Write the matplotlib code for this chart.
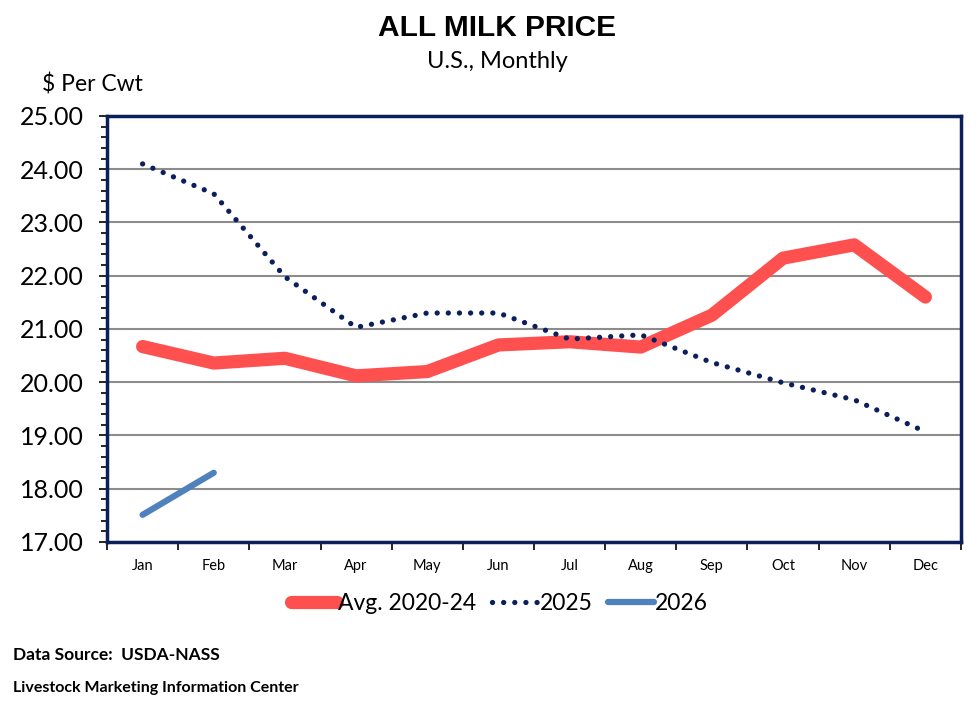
import numpy as np
import matplotlib
matplotlib.use("Agg")
import matplotlib.pyplot as plt
from matplotlib.ticker import MultipleLocator, FixedLocator, FormatStrFormatter, NullFormatter

plt.rcParams['font.family'] = ['Lato', 'DejaVu Sans']

months = ["Jan", "Feb", "Mar", "Apr", "May", "Jun",
          "Jul", "Aug", "Sep", "Oct", "Nov", "Dec"]
avg_2020_24 = [20.67, 20.36, 20.45, 20.12, 20.20, 20.70,
               20.76, 20.66, 21.26, 22.33, 22.58, 21.60]
y2025 = [24.10, 23.54, 21.98, 21.03, 21.30, 21.30,
         20.81, 20.89, 20.37, 19.99, 19.67, 19.07]
y2026 = [17.51, 18.30]

fig = plt.figure(figsize=(9.79, 7.12), dpi=100)
ax = fig.add_axes([0.1093, 0.2388, 0.8723, 0.5983])

x = np.arange(len(months))
ax.plot(x, avg_2020_24, color="#ff5050", lw=9.5, solid_capstyle="round",
        solid_joinstyle="round", label="Avg. 2020-24", zorder=3)
ax.plot(x, y2025, color="#0a1f5c", lw=3.8, linestyle=(0, (0.01, 2.1)),
        dash_capstyle="round", label="2025", zorder=4)
ax.plot(x[:len(y2026)], y2026, color="#4f81bd", lw=4.5,
        solid_capstyle="round", label="2026", zorder=4)

ax.set_xlim(-0.5, 11.5)
ax.set_ylim(17, 25)
ax.yaxis.set_major_locator(MultipleLocator(1))
ax.yaxis.set_minor_locator(MultipleLocator(0.2))
ax.yaxis.set_major_formatter(FormatStrFormatter("%.2f"))
ax.tick_params(axis="y", which="major", length=6, width=1.2, labelsize=18, pad=11)
ax.tick_params(axis="y", which="minor", length=4, width=1.2)

# ticks between categories, labels centred on them
ax.xaxis.set_major_locator(FixedLocator(np.arange(-0.5, 12, 1)))
ax.xaxis.set_major_formatter(NullFormatter())
ax.xaxis.set_minor_locator(FixedLocator(x))
ax.set_xticklabels(months, minor=True)
ax.tick_params(axis="x", which="major", length=6, width=1.2)
ax.tick_params(axis="x", which="minor", length=0, labelsize=10.5, pad=12)

ax.grid(axis="y", which="major", color="#8c8c8c", lw=1.5, zorder=0)
for s in ax.spines.values():
    s.set_color("#0a1f5c")
    s.set_linewidth(2.5)

fig.text(0.508, 0.96, "ALL MILK PRICE", ha="center", va="center",
         fontsize=21.5, fontweight="bold", family="Liberation Sans")
fig.text(0.508, 0.913, "U.S., Monthly", ha="center", va="center", fontsize=17)
fig.text(0.043, 0.881, "$ Per Cwt", ha="left", va="center", fontsize=16.5)

ax.legend(loc="center", bbox_to_anchor=(0.46, -0.145), ncol=3, frameon=False,
          fontsize=16.5, handlelength=2.0, handletextpad=0.05, columnspacing=0.7)

fig.text(0.013, 0.08, "Data Source:  USDA-NASS", ha="left", va="center",
         fontsize=12.5, fontweight="bold")
fig.text(0.013, 0.034, "Livestock Marketing Information Center", ha="left",
         va="center", fontsize=11.5, fontweight="bold")

fig.savefig("out.png", dpi=100)
